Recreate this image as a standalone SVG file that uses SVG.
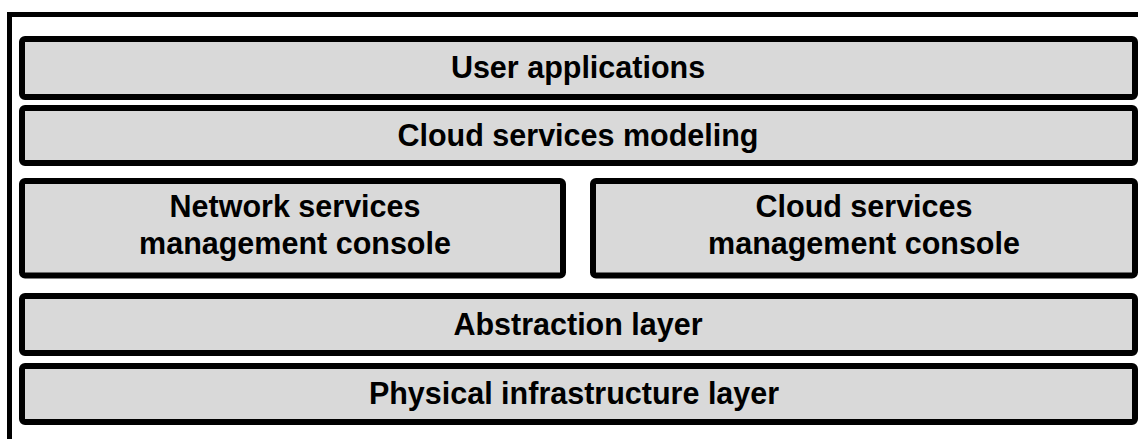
<svg xmlns="http://www.w3.org/2000/svg" width="1138" height="439" viewBox="0 0 1138 439">
<style>
.box{fill:#d9d9d9;stroke:#000;stroke-width:6}
.lbl{font-family:"Liberation Sans",Arial,sans-serif;font-weight:bold;font-size:30.5px;fill:#000;text-anchor:middle}
</style>
<rect width="1138" height="439" fill="#fff"/>
<g id="frame">
<path d="M9.5 445 V14.5 H1145" fill="none" stroke="#000" stroke-width="5"/>
</g>
<g id="user-applications">
<rect class="box" x="22" y="39" width="1113" height="58" rx="3"/>
<text class="lbl" x="578" y="78">User applications</text>
</g>
<g id="cloud-services-modeling">
<rect class="box" x="22" y="108" width="1113" height="55" rx="3"/>
<text class="lbl" x="578" y="146">Cloud services modeling</text>
</g>
<g id="network-services-console">
<rect class="box" x="22" y="181" width="541" height="94.5" rx="3"/>
<text class="lbl" x="295" y="217">Network services</text>
<text class="lbl" x="295" y="254">management console</text>
</g>
<g id="cloud-services-console">
<rect class="box" x="593" y="181" width="542" height="94.5" rx="3"/>
<text class="lbl" x="864" y="217">Cloud services</text>
<text class="lbl" x="864" y="254">management console</text>
</g>
<g id="abstraction-layer">
<rect class="box" x="22" y="296" width="1113" height="57" rx="3"/>
<text class="lbl" x="578" y="335">Abstraction layer</text>
</g>
<g id="physical-infrastructure-layer">
<rect class="box" x="22" y="366" width="1113" height="56" rx="3"/>
<text class="lbl" x="574" y="404">Physical infrastructure layer</text>
</g>
<g id="connectors"/>
</svg>
